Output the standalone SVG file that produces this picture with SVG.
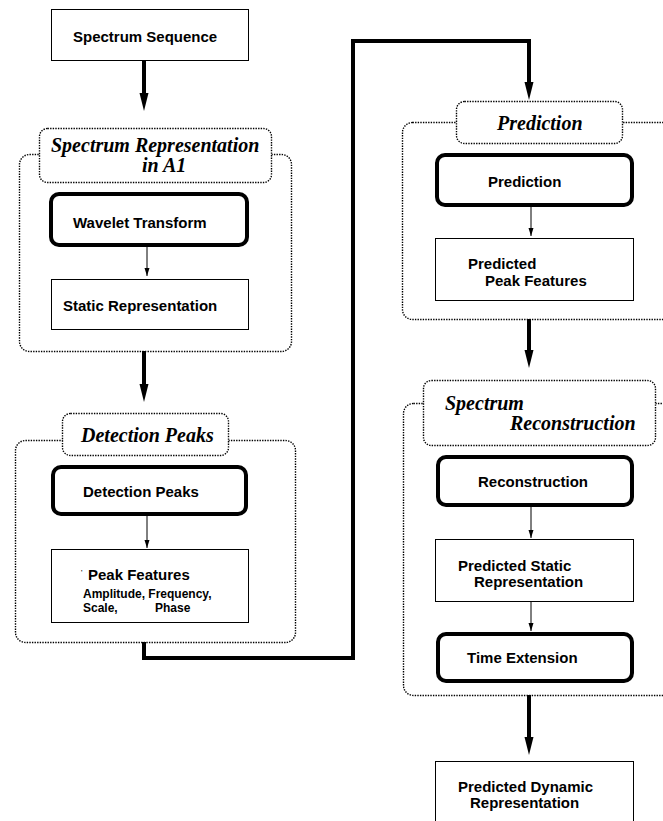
<svg xmlns="http://www.w3.org/2000/svg" width="663" height="821" viewBox="0 0 663 821">
<style>
.bg{fill:#fff}
.thin{fill:#fff;stroke:#000;stroke-width:1}
.thick{fill:#fff;stroke:#000;stroke-width:4}
.dot{fill:#fff;stroke:#000;stroke-width:1.4;stroke-dasharray:1.4 1.2}
.t{font-family:"Liberation Sans",Arial,sans-serif;font-weight:bold;font-size:15px;fill:#000}
.s{font-family:"Liberation Sans",Arial,sans-serif;font-weight:bold;font-size:12px;fill:#000}
.g{font-family:"Liberation Serif","Times New Roman",serif;font-weight:bold;font-style:italic;font-size:20px;fill:#000}
.big{fill:none;stroke:#000;stroke-width:4}
.sm{fill:none;stroke:#000;stroke-width:1}
</style>
<defs>
<marker id="ah" markerUnits="userSpaceOnUse" markerWidth="18" markerHeight="10" refX="6" refY="5" orient="auto" viewBox="0 0 18 10">
<path d="M0,0.5 L18,5 L0,9.5 z" fill="#000"/>
</marker>
<marker id="as" markerUnits="userSpaceOnUse" markerWidth="8" markerHeight="6" refX="8" refY="3" orient="auto" viewBox="0 0 8 6">
<path d="M0,0.5 L8,3 L0,5.5 z" fill="#000"/>
</marker>
</defs>
<rect class="bg" x="0" y="0" width="663" height="821"/>

<g id="n-spectrum-sequence">
<rect class="thin" x="51.5" y="9.5" width="197" height="51"/>
<text class="t" x="73" y="42">Spectrum Sequence</text>
</g>

<g id="grp-spectrum-representation">
<rect class="dot" x="19.5" y="154.5" width="272" height="197" rx="10"/>
<rect class="dot" x="39.5" y="128.5" width="232" height="54" rx="8"/>
<text class="g" x="51" y="152">Spectrum Representation</text>
<text class="g" x="142" y="172">in A1</text>
</g>
<g id="n-wavelet-transform">
<rect class="thick" x="51" y="194" width="196" height="51" rx="8"/>
<text class="t" x="73" y="228">Wavelet Transform</text>
</g>
<g id="n-static-representation">
<rect class="thin" x="51.5" y="279.5" width="197" height="50"/>
<text class="t" x="63" y="311">Static Representation</text>
</g>

<g id="grp-detection-peaks">
<rect class="dot" x="15.5" y="440.5" width="280" height="202" rx="10"/>
<rect class="dot" x="62.5" y="413.5" width="166" height="42" rx="8"/>
<text class="g" x="81" y="442">Detection Peaks</text>
</g>
<g id="n-detection-peaks">
<rect class="thick" x="53" y="467" width="193" height="47" rx="8"/>
<text class="t" x="83" y="497">Detection Peaks</text>
</g>
<g id="n-peak-features">
<rect class="thin" x="51.5" y="549.5" width="197" height="73"/>
<text class="s" x="81" y="574" style="font-size:6px">'</text>
<text class="t" x="88" y="580">Peak Features</text>
<text class="s" x="83" y="598">Amplitude, Frequency,</text>
<text class="s" x="83" y="612">Scale,</text>
<text class="s" x="155" y="612">Phase</text>
</g>

<g id="grp-prediction">
<rect class="dot" x="402.5" y="122.5" width="300" height="197" rx="10"/>
<rect class="dot" x="456.5" y="101.5" width="166" height="42" rx="8"/>
<text class="g" x="497" y="130">Prediction</text>
</g>
<g id="n-prediction">
<rect class="thick" x="437" y="155" width="195" height="50" rx="8"/>
<text class="t" x="488" y="187">Prediction</text>
</g>
<g id="n-predicted-peak-features">
<rect class="thin" x="435.5" y="238.5" width="198" height="62"/>
<text class="t" x="468" y="269">Predicted</text>
<text class="t" x="485" y="286">Peak Features</text>
</g>

<g id="grp-spectrum-reconstruction">
<rect class="dot" x="403.5" y="403.5" width="300" height="292" rx="10"/>
<rect class="dot" x="423.5" y="380.5" width="232" height="65" rx="8"/>
<text class="g" x="445" y="410">Spectrum</text>
<text class="g" x="510" y="430">Reconstruction</text>
</g>
<g id="n-reconstruction">
<rect class="thick" x="438" y="457" width="194" height="48" rx="8"/>
<text class="t" x="478" y="487">Reconstruction</text>
</g>
<g id="n-predicted-static-representation">
<rect class="thin" x="435.5" y="539.5" width="198" height="62"/>
<text class="t" x="458" y="571">Predicted Static</text>
<text class="t" x="474" y="587">Representation</text>
</g>
<g id="n-time-extension">
<rect class="thick" x="438" y="634" width="194" height="47" rx="8"/>
<text class="t" x="467" y="663">Time Extension</text>
</g>
<g id="n-predicted-dynamic-representation">
<rect class="thin" x="435.5" y="761.5" width="198" height="80"/>
<text class="t" x="458" y="792">Predicted Dynamic</text>
<text class="t" x="470" y="808">Representation</text>
</g>

<g id="connectors">
<path class="big" d="M144,60 V99" marker-end="url(#ah)"/>
<path class="sm" d="M147,247 V276" marker-end="url(#as)"/>
<path class="big" d="M144,351 V390" marker-end="url(#ah)"/>
<path class="sm" d="M147,516 V548" marker-end="url(#as)"/>
<path class="big" d="M144,642 V658 H353 V41 H529 V88" marker-end="url(#ah)"/>
<path class="sm" d="M531,207 V236" marker-end="url(#as)"/>
<path class="big" d="M529,319 V356" marker-end="url(#ah)"/>
<path class="sm" d="M531,507 V538" marker-end="url(#as)"/>
<path class="sm" d="M531,601 V631" marker-end="url(#as)"/>
<path class="big" d="M529,695 V743" marker-end="url(#ah)"/>
</g>
</svg>
